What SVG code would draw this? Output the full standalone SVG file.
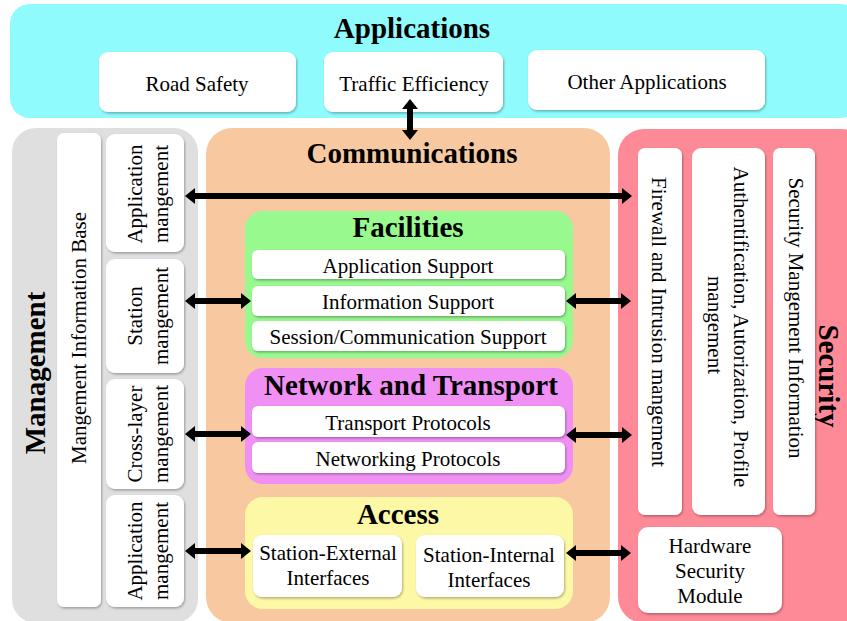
<svg xmlns="http://www.w3.org/2000/svg" width="847" height="621" viewBox="0 0 847 621">
<defs>
<style>
.t{font-family:"Liberation Serif","Times New Roman",serif;font-size:21px;fill:#000;}
.b{font-family:"Liberation Serif","Times New Roman",serif;font-size:29px;font-weight:bold;fill:#000;}
.c{text-anchor:middle;}
.w{fill:#ffffff;filter:url(#sh);}
.con{stroke:#000;stroke-width:6;fill:none;marker-start:url(#ah);marker-end:url(#ah);}
</style>
<filter id="sh" x="-10%" y="-10%" width="130%" height="130%">
<feDropShadow dx="1" dy="1.5" stdDeviation="1" flood-color="#000" flood-opacity="0.3"/>
</filter>
<marker id="ah" viewBox="0 0 10 16" markerWidth="10" markerHeight="16" refX="1" refY="8" orient="auto-start-reverse" markerUnits="userSpaceOnUse">
<path d="M0,0 L10,8 L0,16 Z" fill="#000"/>
</marker>
</defs>

<g id="applications">
<rect x="10" y="4" width="850" height="114" rx="20" fill="#8ffbfc"/>
<text class="b c" x="412" y="38">Applications</text>
</g>
<g id="road-safety">
<rect class="w" x="99" y="52" width="197" height="60" rx="9"/>
<text class="t c" x="197" y="91">Road Safety</text>
</g>
<g id="traffic-efficiency">
<rect class="w" x="324" y="52" width="179" height="60" rx="9"/>
<text class="t c" x="414" y="91">Traffic Efficiency</text>
</g>
<g id="other-applications">
<rect class="w" x="528" y="50" width="237" height="60" rx="9"/>
<text class="t c" x="647" y="89">Other Applications</text>
</g>

<g id="management">
<rect x="12" y="128" width="186" height="495" rx="24" fill="#dfdfdf"/>
<text class="b c" x="45" y="373" transform="rotate(-90 45 373)">Management</text>
</g>
<g id="mib">
<rect class="w" x="57" y="133" width="44" height="474" rx="7"/>
<text class="t c" x="86" y="338" transform="rotate(-90 86 338)">Mangement Information Base</text>
</g>
<g id="app-mgmt-1">
<rect class="w" x="106" y="134" width="78" height="118" rx="9"/>
<text class="t c" transform="rotate(-90 142 194)" x="142" y="194">Application</text>
<text class="t c" transform="rotate(-90 168 194)" x="168" y="194">mangement</text>
</g>
<g id="station-mgmt">
<rect class="w" x="106" y="259" width="78" height="114" rx="9"/>
<text class="t c" transform="rotate(-90 142 316)" x="142" y="316">Station</text>
<text class="t c" transform="rotate(-90 168 316)" x="168" y="316">mangement</text>
</g>
<g id="cross-layer-mgmt">
<rect class="w" x="106" y="379" width="78" height="110" rx="9"/>
<text class="t c" transform="rotate(-90 142 434)" x="142" y="434">Cross-layer</text>
<text class="t c" transform="rotate(-90 168 434)" x="168" y="434">mangement</text>
</g>
<g id="app-mgmt-2">
<rect class="w" x="106" y="495" width="78" height="112" rx="9"/>
<text class="t c" transform="rotate(-90 142 551)" x="142" y="551">Application</text>
<text class="t c" transform="rotate(-90 168 551)" x="168" y="551">mangement</text>
</g>

<g id="communications">
<rect x="206" y="128" width="404" height="495" rx="26" fill="#f8c9a0"/>
<text class="b c" x="412" y="163">Communications</text>
</g>
<g id="facilities">
<rect x="245" y="211" width="328" height="147" rx="18" fill="#98f98f"/>
<text class="b c" x="408" y="237">Facilities</text>
<rect class="w" x="252" y="250" width="313" height="29" rx="6"/>
<text class="t c" x="408" y="273">Application Support</text>
<rect class="w" x="252" y="286" width="313" height="30" rx="6"/>
<text class="t c" x="408" y="309">Information Support</text>
<rect class="w" x="252" y="321" width="313" height="30" rx="6"/>
<text class="t c" x="408" y="344">Session/Communication Support</text>
</g>
<g id="network-transport">
<rect x="245" y="368" width="328" height="116" rx="18" fill="#f090f4"/>
<text class="b c" x="411" y="395">Network and Transport</text>
<rect class="w" x="252" y="406" width="313" height="31" rx="6"/>
<text class="t c" x="408" y="430">Transport Protocols</text>
<rect class="w" x="252" y="442" width="313" height="31" rx="6"/>
<text class="t c" x="408" y="466">Networking Protocols</text>
</g>
<g id="access">
<rect x="245" y="497" width="328" height="112" rx="18" fill="#fdf8a6"/>
<text class="b c" x="398" y="524">Access</text>
<rect class="w" x="253" y="535" width="149" height="62" rx="9"/>
<text class="t c" x="328" y="560">Station-External</text>
<text class="t c" x="328" y="585">Interfaces</text>
<rect class="w" x="416" y="535" width="148" height="62" rx="9"/>
<text class="t c" x="489" y="562">Station-Internal</text>
<text class="t c" x="489" y="587">Interfaces</text>
</g>

<g id="security">
<rect x="618" y="129" width="250" height="494" rx="26" fill="#fd8a96"/>
<text class="b c" x="819" y="376" transform="rotate(90 819 376)">Security</text>
</g>
<g id="firewall">
<rect class="w" x="638" y="148" width="44" height="367" rx="7"/>
<text class="t c" x="652" y="322" transform="rotate(90 652 322)">Firewall and Intrusion mangement</text>
</g>
<g id="authentification">
<rect class="w" x="692" y="148" width="73" height="367" rx="9"/>
<text class="t c" x="734" y="327" transform="rotate(90 734 327)">Authentification, Autorization, Profile</text>
<text class="t c" x="708" y="325" transform="rotate(90 708 325)">mangement</text>
</g>
<g id="security-mib">
<rect class="w" x="773" y="148" width="42" height="367" rx="7"/>
<text class="t c" x="789" y="318" transform="rotate(90 789 318)">Security Mangement Information</text>
</g>
<g id="hsm">
<rect class="w" x="638" y="527" width="144" height="86" rx="10"/>
<text class="t c" x="710" y="553">Hardware</text>
<text class="t c" x="710" y="578">Security</text>
<text class="t c" x="710" y="603">Module</text>
</g>

<g id="connectors">
<line class="con" x1="410" y1="108" x2="410" y2="131"/>
<line class="con" x1="194" y1="196" x2="623" y2="196"/>
<line class="con" x1="194" y1="301" x2="242" y2="301"/>
<line class="con" x1="575" y1="301" x2="622" y2="301"/>
<line class="con" x1="194" y1="434" x2="242" y2="434"/>
<line class="con" x1="575" y1="435" x2="623" y2="435"/>
<line class="con" x1="194" y1="551" x2="242" y2="551"/>
<line class="con" x1="575" y1="553" x2="622" y2="553"/>
</g>
</svg>
